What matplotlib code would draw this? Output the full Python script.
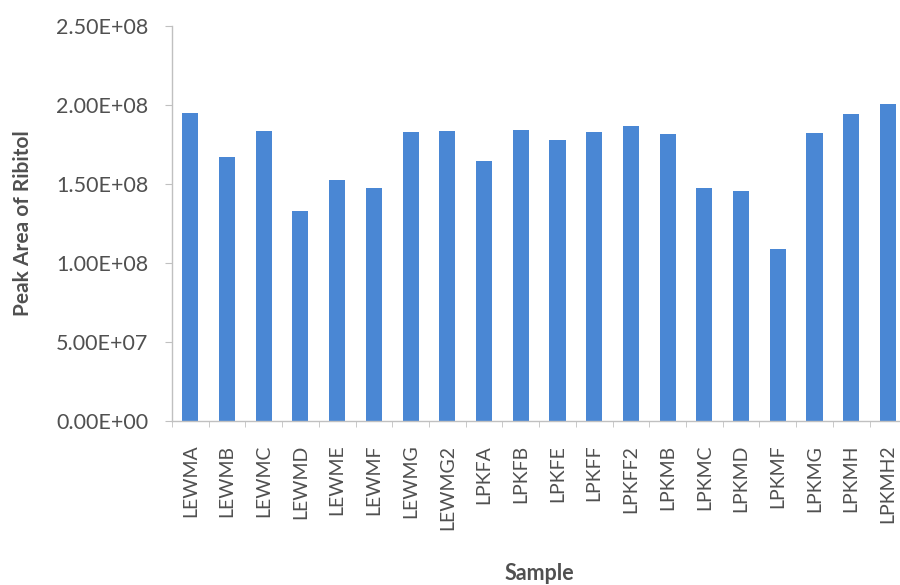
import matplotlib
matplotlib.use("Agg")
import matplotlib.pyplot as plt
import numpy as np
from matplotlib.ticker import FuncFormatter, FixedLocator

# peak area of the ribitol internal standard per sample
samples = ["LEWMA", "LEWMB", "LEWMC", "LEWMD", "LEWME", "LEWMF", "LEWMG", "LEWMG2",
           "LPKFA", "LPKFB", "LPKFE", "LPKFF", "LPKFF2", "LPKMB", "LPKMC", "LPKMD",
           "LPKMF", "LPKMG", "LPKMH", "LPKMH2"]
peak_area = [1.947e8, 1.673e8, 1.835e8, 1.329e8, 1.525e8, 1.477e8, 1.827e8, 1.835e8,
             1.648e8, 1.842e8, 1.778e8, 1.831e8, 1.867e8, 1.814e8, 1.477e8, 1.458e8,
             1.086e8, 1.825e8, 1.941e8, 2.004e8]
y_ticks = [0, 5e7, 1e8, 1.5e8, 2e8, 2.5e8]

plt.rcParams['font.family'] = ['Lato', 'DejaVu Sans']
text_col = "#505050"
axis_col = "#c0c0c0"

fig = plt.figure(figsize=(9, 5.85), dpi=100)
ax = fig.add_axes([0.191, 0.2803, 0.816, 0.6753])

x = np.arange(len(samples))
ax.bar(x, peak_area, width=0.44, color="#4a87d4", zorder=2)

ax.set_xlim(-0.5, len(samples) - 0.5)
ax.set_ylim(0, 2.5e8)
ax.set_yticks(y_ticks)
ax.yaxis.set_major_formatter(FuncFormatter(lambda v, p: "%.2E" % v))

ax.set_xticks(x)
ax.set_xticklabels(samples, rotation=90)
ax.xaxis.set_minor_locator(FixedLocator(np.arange(len(samples) + 1) - 0.5))

ax.tick_params(axis="x", which="major", length=0, pad=17, labelsize=14, labelcolor=text_col)
ax.tick_params(axis="x", which="minor", length=4, color=axis_col, direction="out")
ax.tick_params(axis="y", length=5, color=axis_col, pad=12, labelsize=15.5, labelcolor=text_col)

for s in ["top", "right"]:
    ax.spines[s].set_visible(False)
for s in ["left", "bottom"]:
    ax.spines[s].set_color(axis_col)
    ax.spines[s].set_linewidth(1.0)

ax.set_ylabel("Peak Area of Ribitol", fontsize=15, fontweight="bold", color=text_col)
ax.yaxis.set_label_coords(-0.189, 0.5)
ax.set_xlabel("Sample", fontsize=15.5, fontweight="bold", color=text_col)
ax.xaxis.set_label_coords(0.5, -0.385)
ax.xaxis.label.set_va("center")

fig.savefig("out.png", dpi=100)
